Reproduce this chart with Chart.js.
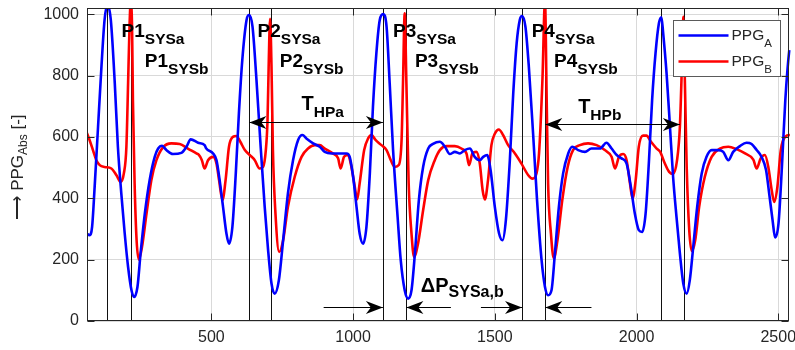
<!DOCTYPE html>
<html>
<head>
<meta charset="utf-8">
<script src="https://cdn.jsdelivr.net/npm/chart.js@4"></script>
<style>
  body { margin: 0; background: #fff; }
  canvas { display: block; }
</style>
</head>
<body>
<canvas id="ppgChart" width="795" height="350"></canvas>
<script>
// PPG_A (blue) samples
const ppgAx = [59, 70, 79, 88, 100, 112, 123, 133, 145, 159, 170, 182, 194, 206, 218, 227, 239, 250, 265, 282,
  300, 312, 326, 341, 364, 394, 412, 427, 453, 476, 482, 506, 518, 529, 541, 553, 562, 574, 586, 597,
  609, 624, 633, 645, 659, 673, 688, 700, 712, 723, 738, 753, 770, 788, 806, 821, 835, 859, 882, 900,
  924, 953, 977, 988, 1000, 1012, 1023, 1035, 1047, 1059, 1070, 1082, 1094, 1106, 1118, 1129, 1141, 1157, 1168, 1182,
  1194, 1206, 1218, 1232, 1247, 1265, 1282, 1306, 1324, 1341, 1359, 1377, 1394, 1412, 1429, 1447, 1459, 1473, 1485, 1500,
  1515, 1527, 1539, 1553, 1565, 1577, 1588, 1596, 1608, 1620, 1635, 1649, 1665, 1677, 1688, 1700, 1712, 1726, 1741, 1759,
  1773, 1794, 1818, 1841, 1871, 1894, 1912, 1930, 1947, 1965, 1980, 1994, 2008, 2020, 2032, 2044, 2055, 2067, 2079, 2088,
  2094, 2106, 2118, 2129, 2141, 2153, 2165, 2177, 2188, 2200, 2214, 2230, 2247, 2265, 2288, 2306, 2324, 2341, 2365, 2388,
  2406, 2424, 2441, 2457, 2468, 2480, 2489, 2501, 2513, 2525, 2539, 2553];
const ppgAy = [285, 280, 307, 437, 633, 829, 981, 1030, 981, 775, 568, 416, 286, 176, 100, 78, 111, 220, 350, 459,
  535, 562, 571, 557, 544, 548, 568, 592, 581, 573, 562, 546, 524, 459, 372, 285, 252, 307, 481, 677,
  851, 981, 997, 959, 785, 579, 372, 231, 122, 89, 133, 263, 416, 524, 590, 606, 595, 579, 568, 551,
  546, 546, 546, 535, 470, 372, 285, 252, 307, 481, 698, 872, 981, 1000, 959, 775, 557, 339, 198, 100,
  73, 100, 220, 394, 502, 562, 577, 584, 568, 544, 551, 546, 557, 562, 535, 524, 535, 541, 492, 372,
  285, 263, 329, 524, 742, 905, 981, 994, 959, 829, 611, 394, 198, 111, 84, 100, 220, 372, 481, 546,
  568, 557, 551, 562, 562, 581, 562, 541, 530, 513, 437, 350, 296, 290, 350, 524, 720, 872, 970, 990,
  938, 807, 633, 470, 339, 220, 122, 89, 133, 241, 372, 481, 535, 557, 557, 551, 524, 551, 570, 581,
  577, 557, 535, 492, 416, 329, 272, 318, 502, 720, 883, 959];

// PPG_B (red) samples
const ppgBx = [59, 70, 82, 94, 106, 123, 147, 165, 180, 191, 200, 206, 211, 215, 220, 223, 229, 236, 244, 255,
  271, 288, 306, 329, 359, 388, 417, 447, 455, 466, 476, 488, 506, 518, 527, 539, 550, 562, 576, 588,
  602, 618, 635, 653, 670, 682, 692, 698, 702, 707, 712, 717, 726, 739, 753, 770, 794, 818, 841, 865,
  882, 900, 929, 947, 956, 968, 982, 994, 1006, 1014, 1023, 1039, 1053, 1065, 1079, 1100, 1118, 1133, 1147, 1161,
  1171, 1176, 1182, 1188, 1196, 1206, 1215, 1229, 1247, 1265, 1288, 1306, 1330, 1359, 1382, 1400, 1409, 1421, 1435, 1447,
  1457, 1465, 1476, 1488, 1500, 1514, 1529, 1547, 1571, 1594, 1618, 1633, 1647, 1656, 1668, 1677, 1683, 1688, 1698, 1708,
  1721, 1738, 1757, 1776, 1800, 1829, 1859, 1888, 1912, 1924, 1938, 1953, 1965, 1977, 1986, 1997, 2008, 2023, 2035, 2051,
  2071, 2083, 2100, 2115, 2129, 2143, 2153, 2160, 2165, 2170, 2177, 2186, 2195, 2207, 2221, 2241, 2265, 2294, 2324, 2353,
  2383, 2412, 2424, 2438, 2453, 2465, 2477, 2486, 2497, 2509, 2524, 2541, 2556];
const ppgBy = [617, 590, 557, 524, 508, 502, 497, 475, 453, 481, 568, 775, 959, 1035, 959, 720, 448, 263, 200, 241,
  350, 459, 524, 566, 579, 577, 562, 546, 542, 525, 497, 524, 535, 513, 459, 394, 459, 568, 600, 603,
  584, 557, 541, 524, 497, 502, 557, 655, 829, 985, 829, 557, 350, 225, 263, 372, 470, 535, 562, 573,
  573, 562, 546, 530, 497, 535, 541, 502, 437, 396, 448, 557, 595, 606, 590, 573, 557, 524, 502, 508,
  590, 775, 1003, 775, 448, 285, 209, 252, 361, 459, 524, 557, 570, 570, 562, 546, 508, 546, 551, 513,
  426, 396, 459, 573, 610, 624, 606, 573, 546, 513, 475, 464, 481, 546, 786, 1045, 720, 448, 285, 204,
  263, 394, 502, 557, 573, 579, 573, 557, 535, 497, 535, 544, 524, 448, 399, 459, 568, 604, 604, 584,
  562, 552, 513, 486, 479, 524, 633, 829, 992, 807, 502, 296, 228, 263, 372, 470, 535, 562, 568, 560,
  546, 526, 497, 530, 541, 502, 426, 388, 437, 557, 600, 606, 595];

const xTicks = [500, 1000, 1500, 2000, 2500];
const yTicks = [0, 200, 400, 600, 800, 1000];

// vertical markers at the systolic peaks (a = blue, b = red)
const peakLines = [131, 218, 634, 709, 1105, 1188, 1596, 1678, 2088, 2167];

const peakLabels = [
  { x: 183, y: 926, main: 'P1', sub: 'SYSa' }, { x: 265, y: 828, main: 'P1', sub: 'SYSb' },
  { x: 663, y: 926, main: 'P2', sub: 'SYSa' }, { x: 741, y: 828, main: 'P2', sub: 'SYSb' },
  { x: 1141, y: 926, main: 'P3', sub: 'SYSa' }, { x: 1218, y: 828, main: 'P3', sub: 'SYSb' },
  { x: 1630, y: 926, main: 'P4', sub: 'SYSa' }, { x: 1709, y: 828, main: 'P4', sub: 'SYSb' },
];
const periodLabels = [
  { x: 818, y: 687, main: 'T', sub: 'HPa' },
  { x: 1794, y: 678, main: 'T', sub: 'HPb' },
];
const arrows = [
  { from: 634, to: 1105, y: 649, both: true },
  { from: 1678, to: 2153, y: 642, both: true },
  { from: 896, to: 1105, y: 46 },
  { from: 1345, to: 1188, y: 46 },
  { from: 1451, to: 1596, y: 46 },
  { from: 1841, to: 1678, y: 46 },
];

const FONT = '"Liberation Sans", Arial, Helvetica, sans-serif';
const AXIS_COLOR = '#262626';

const toPoints = (xs, ys) => xs.map((x, i) => ({ x, y: ys[i] }));

function subText(ctx, x, y, main, sub, size, subSize, drop, weight) {
  ctx.font = `${weight} ${size}px ${FONT}`;
  ctx.fillText(main, x, y);
  const w = ctx.measureText(main).width;
  ctx.font = `${weight} ${subSize}px ${FONT}`;
  ctx.fillText(sub, x + w, y + drop);
  return w + ctx.measureText(sub).width;
}

function arrowHead(ctx, tx, ty, dir) {
  const L = 17, W = 6.5, N = 12;
  ctx.beginPath();
  ctx.moveTo(tx, ty);
  ctx.lineTo(tx - dir * L, ty - W);
  ctx.lineTo(tx - dir * N, ty);
  ctx.lineTo(tx - dir * L, ty + W);
  ctx.closePath();
  ctx.fill();
}

const overlay = {
  id: 'overlay',
  beforeDatasetsDraw(chart) {
    const { ctx, chartArea: a, scales: { x } } = chart;
    ctx.save();
    ctx.strokeStyle = '#111';
    ctx.lineWidth = 1;
    peakLines.forEach(v => {
      const px = Math.round(x.getPixelForValue(v)) + 0.5;
      ctx.beginPath();
      ctx.moveTo(px, a.bottom);
      ctx.lineTo(px, a.top);
      ctx.stroke();
    });
    ctx.restore();
  },
  afterDraw(chart) {
    const { ctx, chartArea: a, scales: { x, y } } = chart;
    ctx.save();

    // axes box + inward ticks
    const L = Math.round(a.left) + 0.5, R = Math.round(a.right) - 0.5;
    const T = Math.round(a.top) + 0.5, B = Math.round(a.bottom) - 0.5;
    ctx.strokeStyle = AXIS_COLOR;
    ctx.lineWidth = 1;
    ctx.strokeRect(L, T, R - L, B - T);
    ctx.beginPath();
    xTicks.forEach(v => {
      const px = Math.round(x.getPixelForValue(v)) + 0.5;
      ctx.moveTo(px, B); ctx.lineTo(px, B - 7);
      ctx.moveTo(px, T); ctx.lineTo(px, T + 7);
    });
    yTicks.forEach(v => {
      const py = Math.round(y.getPixelForValue(v)) + 0.5;
      ctx.moveTo(L, py); ctx.lineTo(L + 7, py);
      ctx.moveTo(R, py); ctx.lineTo(R - 7, py);
    });
    ctx.stroke();

    // arrows
    ctx.strokeStyle = '#000';
    ctx.fillStyle = '#000';
    arrows.forEach(ar => {
      const x1 = x.getPixelForValue(ar.from), x2 = x.getPixelForValue(ar.to);
      const py = Math.round(y.getPixelForValue(ar.y)) + 0.5;
      ctx.beginPath();
      ctx.moveTo(x1, py); ctx.lineTo(x2, py);
      ctx.stroke();
      const dir = x2 > x1 ? 1 : -1;
      arrowHead(ctx, x2, py, dir);
      if (ar.both) arrowHead(ctx, x1, py, -dir);
    });

    // text annotations
    ctx.fillStyle = '#000';
    ctx.textBaseline = 'alphabetic';
    ctx.textAlign = 'left';
    peakLabels.forEach(l => {
      subText(ctx, x.getPixelForValue(l.x), y.getPixelForValue(l.y), l.main, l.sub, 19, 15.5, 7, 'bold');
    });
    periodLabels.forEach(l => {
      subText(ctx, x.getPixelForValue(l.x), y.getPixelForValue(l.y), l.main, l.sub, 20, 15.5, 7, 'bold');
    });
    subText(ctx, x.getPixelForValue(1239), y.getPixelForValue(95), '\u0394P', 'SYSa,b', 20, 16, 5, 'bold');

    // legend
    const bx = Math.round(a.right) - 116 + 0.5, by = Math.round(a.top) + 12 + 0.5;
    ctx.fillStyle = '#fff';
    ctx.fillRect(bx, by, 107, 56);
    ctx.strokeStyle = '#5a5a5a';
    ctx.lineWidth = 1;
    ctx.strokeRect(bx, by, 107, 56);
    const rows = [['#0000ff', 'A', 15], ['#ff0000', 'B', 41]];
    rows.forEach(([col, s, dy]) => {
      ctx.strokeStyle = col;
      ctx.lineWidth = 2.6;
      ctx.beginPath();
      ctx.moveTo(bx + 5, by + dy); ctx.lineTo(bx + 55, by + dy);
      ctx.stroke();
      ctx.fillStyle = AXIS_COLOR;
      subText(ctx, bx + 58, by + dy + 4, 'PPG', s, 15.5, 11.5, 7, 'normal');
    });

    // y axis title
    ctx.translate(23, 167);
    ctx.rotate(-Math.PI / 2);
    ctx.fillStyle = AXIS_COLOR;
    ctx.font = `17px ${FONT}`;
    const p1 = '\u27F6 PPG', p3 = ' [-]';
    const w1 = ctx.measureText(p1).width, w3 = ctx.measureText(p3).width;
    ctx.font = `12px ${FONT}`;
    const w2 = ctx.measureText('Abs').width;
    let u = -(w1 + w2 + w3) / 2;
    ctx.font = `17px ${FONT}`;
    ctx.fillText(p1, u, 0);
    u += w1;
    ctx.font = `12px ${FONT}`;
    ctx.fillText('Abs', u, 4);
    u += w2;
    ctx.font = `17px ${FONT}`;
    ctx.fillText(p3, u, 0);

    ctx.restore();
  }
};

const ctx = document.getElementById('ppgChart').getContext('2d');

const lineStyle = {
  borderWidth: 2.6,
  pointRadius: 0,
  fill: false,
  cubicInterpolationMode: 'monotone',
  clip: { left: 0, top: 0, right: 8, bottom: 0 },
};

const ppgChart = new Chart(ctx, {
  type: 'line',
  data: {
    datasets: [
      { label: 'PPG_A', data: toPoints(ppgAx, ppgAy), borderColor: '#0000ff', ...lineStyle },
      { label: 'PPG_B', data: toPoints(ppgBx, ppgBy), borderColor: '#ff0000', ...lineStyle },
    ]
  },
  options: {
    responsive: false,
    animation: false,
    layout: { padding: { top: 8, right: 6, left: 0, bottom: 0 } },
    plugins: { legend: { display: false }, tooltip: { enabled: false } },
    scales: {
      x: {
        type: 'linear',
        min: 61,
        max: 2538,
        afterBuildTicks: s => { s.ticks = xTicks.map(v => ({ value: v })); },
        afterFit: s => { s.height = 29; s.paddingLeft = 0; s.paddingRight = 0; },
        grid: { color: '#d9d9d9', lineWidth: 1, drawTicks: false },
        border: { display: false },
        ticks: { color: AXIS_COLOR, font: { family: FONT, size: 16 }, padding: 7, maxRotation: 0, callback: v => String(v) }
      },
      y: {
        type: 'linear',
        min: 0,
        max: 1020,
        afterBuildTicks: s => { s.ticks = yTicks.map(v => ({ value: v })); },
        afterFit: s => { s.width = 87; s.paddingTop = 0; s.paddingBottom = 0; },
        grid: { color: '#d9d9d9', lineWidth: 1, drawTicks: false },
        border: { display: false },
        ticks: { color: AXIS_COLOR, font: { family: FONT, size: 16 }, padding: 8, callback: v => String(v) }
      }
    }
  },
  plugins: [overlay]
});
</script>
</body>
</html>
